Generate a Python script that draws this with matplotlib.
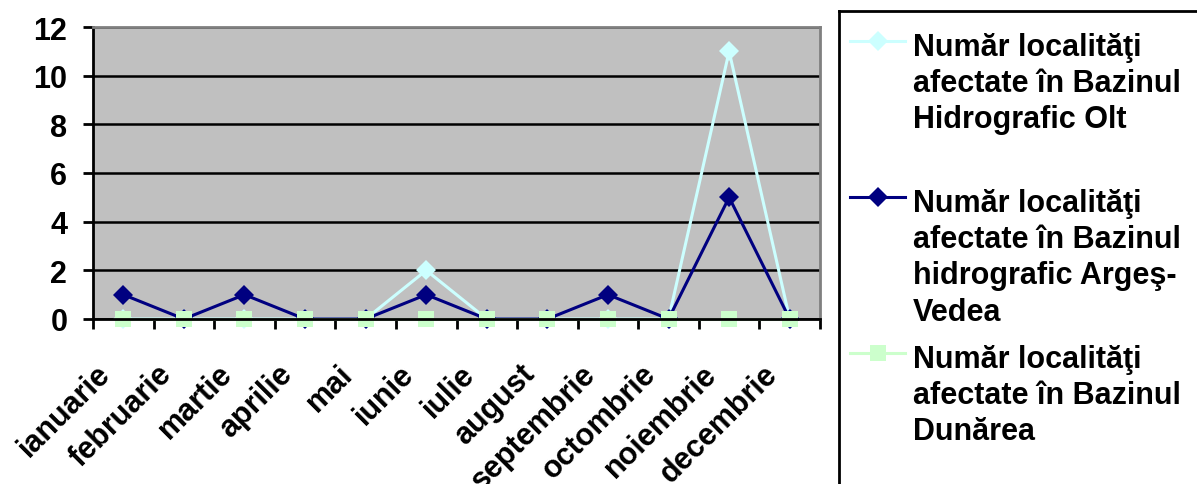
import matplotlib
matplotlib.use("Agg")
import matplotlib.pyplot as plt
import matplotlib.transforms as mtransforms
from matplotlib.lines import Line2D

plt.rcParams['font.family'] = ['Liberation Sans', 'DejaVu Sans']
plt.rcParams['font.weight'] = 'bold'

luni = ["ianuarie", "februarie", "martie", "aprilie", "mai", "iunie",
        "iulie", "august", "septembrie", "octombrie", "noiembrie", "decembrie"]
olt = [0, 0, 0, 0, 0, 2, 0, 0, 0, 0, 11, 0]
arges_vedea = [1, 0, 1, 0, 0, 1, 0, 0, 1, 0, 5, 0]
dunarea = [0, 0, 0, 0, 0, 0, 0, 0, 0, 0, 0, 0]

etichete = ["Număr localităţi\nafectate în Bazinul\nHidrografic Olt",
            "Număr localităţi\nafectate în Bazinul\nhidrografic Argeş-\nVedea",
            "Număr localităţi\nafectate în Bazinul\nDunărea"]

W, H = 1197, 485
fig = plt.figure(figsize=(W / 100, H / 100), dpi=100)
ax = fig.add_axes([93 / W, 1 - 320 / H, (820 - 93) / W, (320 - 28) / H])
ax.set_facecolor("#C0C0C0")

x = list(range(len(luni)))
stiluri = [
    dict(color="#CCFFFF", marker="D", markersize=10.5),
    dict(color="#000080", marker="D", markersize=10.5),
    dict(color="#CCFFCC", marker="s", markersize=12),
]
for serie, st in zip([olt, arges_vedea, dunarea], stiluri):
    ax.plot(x, serie, linewidth=2.2, markeredgewidth=0, clip_on=False, **st)

ax.set_xlim(-0.5, len(luni) - 0.5)
ax.set_ylim(0, 12)
ax.set_yticks(range(0, 13, 2))
ax.yaxis.grid(True, color="black", linewidth=1.8)
ax.set_axisbelow(True)

# tick marks between categories
ax.set_xticks([i - 0.5 for i in range(len(luni) + 1)])
ax.set_xticklabels([])
ax.tick_params(axis="x", direction="out", length=7.5, width=2)
ax.tick_params(axis="y", direction="out", length=7.5, width=2, labelsize=22, pad=11)

# month names, rotated, ending just left of each category centre
off = mtransforms.ScaledTranslation(-0.17, -0.50, fig.dpi_scale_trans)
trans = mtransforms.blended_transform_factory(ax.transData, ax.transAxes) + off
for xi, luna in zip(x, luni):
    ax.text(xi, 0, luna, transform=trans, rotation=45, rotation_mode="anchor",
            ha="right", va="center", fontsize=22, fontweight="bold")

for s in ["left", "bottom"]:
    ax.spines[s].set_color("black")
    ax.spines[s].set_linewidth(2)
for s in ["top", "right"]:
    ax.spines[s].set_color("#808080")
    ax.spines[s].set_linewidth(2)

# legend box on the right
lax = fig.add_axes([839 / W, -0.05, 0.5, 1 - 12 / H + 0.05])
lax.set_xticks([])
lax.set_yticks([])
lax.set_facecolor("white")
for s in lax.spines.values():
    s.set_color("black")
    s.set_linewidth(2)

px = fig.transFigure.inverted()
for i, (et, st) in enumerate(zip(etichete, stiluri)):
    baza = 56 + i * 156
    ym = 1 - (baza - 14) / H
    fig.add_artist(Line2D([850 / W, 905 / W], [ym, ym], color=st["color"], linewidth=2.2))
    fig.add_artist(Line2D([877.5 / W], [ym], color=st["color"], marker=st["marker"],
                          markersize=st["markersize"], markeredgewidth=0))
    fig.text(913 / W, 1 - (baza - 23) / H, et, fontsize=22, fontweight="bold",
             ha="left", va="top", linespacing=1.27)

fig.savefig("out.png", dpi=100)
